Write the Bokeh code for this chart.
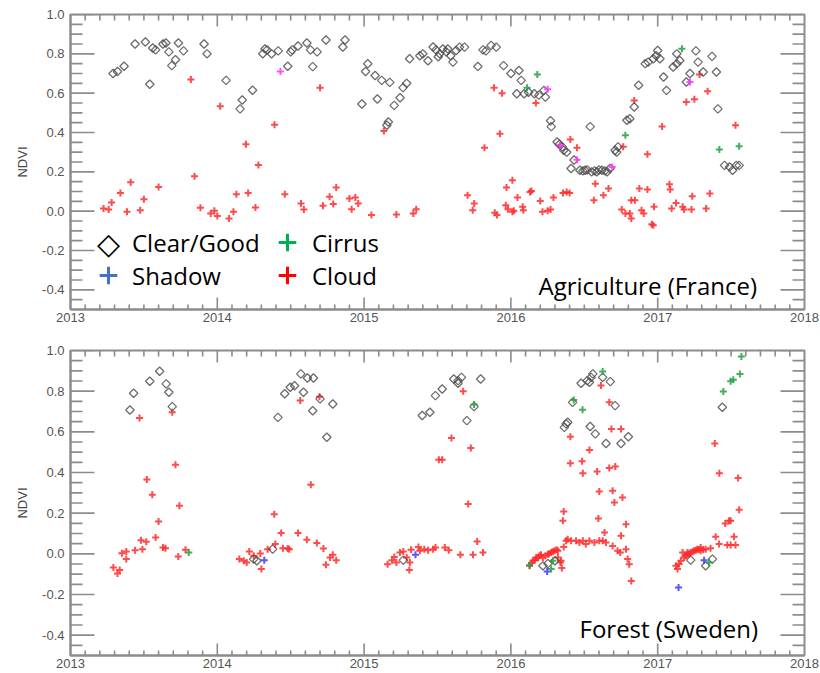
import numpy as np
from bokeh.plotting import figure
from bokeh.models import (Range1d, LinearAxis, SingleIntervalTicker, NumeralTickFormatter,
                          Legend, LegendItem, Label)
from bokeh.layouts import column
from bokeh.embed import file_html
from bokeh.resources import INLINE

# ---------------- data (decimal year, NDVI) ----------------
agri_clear = [
    (2013.29, 0.70), (2013.32, 0.71), (2013.365, 0.737), (2013.44, 0.85), (2013.51, 0.86),
    (2013.54, 0.645), (2013.56, 0.83), (2013.58, 0.82), (2013.63, 0.85), (2013.65, 0.855),
    (2013.67, 0.81), (2013.69, 0.74), (2013.715, 0.77), (2013.735, 0.855), (2013.77, 0.815),
    (2013.91, 0.85), (2013.93, 0.80), (2014.06, 0.665), (2014.155, 0.52), (2014.17, 0.565),
    (2014.24, 0.615), (2014.31, 0.80), (2014.325, 0.825), (2014.34, 0.82), (2014.37, 0.80),
    (2014.415, 0.815), (2014.48, 0.737), (2014.50, 0.81), (2014.51, 0.82), (2014.55, 0.84),
    (2014.61, 0.855), (2014.635, 0.82), (2014.65, 0.735), (2014.68, 0.81), (2014.74, 0.87),
    (2014.855, 0.835), (2014.87, 0.87), (2014.985, 0.545), (2015.01, 0.71), (2015.025, 0.75),
    (2015.075, 0.69), (2015.09, 0.57), (2015.12, 0.665), (2015.155, 0.437), (2015.165, 0.453),
    (2015.175, 0.655), (2015.205, 0.538), (2015.245, 0.577), (2015.265, 0.628), (2015.29, 0.65),
    (2015.31, 0.775), (2015.38, 0.79), (2015.40, 0.80), (2015.435, 0.765), (2015.47, 0.835),
    (2015.49, 0.82), (2015.505, 0.785), (2015.515, 0.80), (2015.537, 0.825), (2015.56, 0.81),
    (2015.57, 0.825), (2015.59, 0.79), (2015.605, 0.758), (2015.627, 0.817), (2015.65, 0.834),
    (2015.684, 0.834), (2015.775, 0.736), (2015.81, 0.82), (2015.83, 0.815), (2015.865, 0.843),
    (2015.90, 0.834), (2015.95, 0.74), (2016.0, 0.70), (2016.04, 0.597), (2016.055, 0.715),
    (2016.07, 0.665), (2016.09, 0.597), (2016.12, 0.605), (2016.16, 0.597), (2016.19, 0.59),
    (2016.225, 0.614), (2016.235, 0.58), (2016.27, 0.46), (2016.275, 0.43), (2016.315, 0.352),
    (2016.33, 0.34), (2016.35, 0.327), (2016.36, 0.31), (2016.38, 0.30), (2016.41, 0.217),
    (2016.43, 0.26), (2016.47, 0.208), (2016.49, 0.205), (2016.505, 0.208), (2016.52, 0.21),
    (2016.54, 0.43), (2016.55, 0.20), (2016.57, 0.205), (2016.585, 0.20), (2016.60, 0.21),
    (2016.62, 0.208), (2016.64, 0.205), (2016.655, 0.20), (2016.675, 0.217), (2016.71, 0.31),
    (2016.72, 0.30), (2016.73, 0.327), (2016.79, 0.462), (2016.81, 0.47), (2016.84, 0.53),
    (2016.87, 0.64), (2016.915, 0.75), (2016.935, 0.758), (2016.97, 0.775), (2016.99, 0.79),
    (2017.0, 0.817), (2017.015, 0.775), (2017.04, 0.682), (2017.06, 0.614), (2017.105, 0.733),
    (2017.13, 0.75), (2017.13, 0.80), (2017.15, 0.766), (2017.195, 0.657), (2017.22, 0.70),
    (2017.26, 0.815), (2017.275, 0.758), (2017.31, 0.708), (2017.37, 0.787), (2017.40, 0.708),
    (2017.41, 0.52), (2017.455, 0.233), (2017.49, 0.225), (2017.51, 0.208), (2017.535, 0.233),
    (2017.555, 0.233),
]
agri_cirrus = [(2016.11, 0.628), (2016.18, 0.695), (2016.78, 0.386), (2017.165, 0.826),
               (2017.42, 0.313), (2017.555, 0.33)]
agri_other = [(2014.43, 0.71), (2016.25, 0.62), (2016.335, 0.335), (2016.45, 0.262),
              (2016.69, 0.225), (2017.22, 0.657)]
agri_cloud = [
    (2013.225, 0.014), (2013.26, 0.009), (2013.28, 0.044), (2013.34, 0.093), (2013.385, -0.003),
    (2013.41, 0.147), (2013.475, 0.005), (2013.50, 0.061), (2013.60, 0.123), (2013.82, 0.669),
    (2013.845, 0.178), (2013.885, 0.017), (2013.955, -0.012), (2013.98, 0.002), (2014.0, -0.024),
    (2014.02, 0.533), (2014.08, -0.037), (2014.11, -0.003), (2014.13, 0.086), (2014.195, 0.34),
    (2014.21, 0.093), (2014.26, 0.019), (2014.28, 0.235), (2014.39, 0.44), (2014.46, 0.086),
    (2014.57, 0.039), (2014.59, 0.009), (2014.70, 0.628), (2014.72, 0.027), (2014.765, 0.073),
    (2014.79, 0.036), (2014.81, 0.12), (2014.90, 0.064), (2014.915, 0.01), (2014.94, 0.07),
    (2014.96, 0.039), (2015.05, -0.02), (2015.135, 0.408), (2015.22, -0.017), (2015.335, -0.012),
    (2015.355, 0.01), (2015.705, 0.081), (2015.74, 0.005), (2015.75, 0.039), (2015.82, 0.323),
    (2015.885, 0.628), (2015.89, -0.008), (2015.905, -0.02), (2015.925, 0.394), (2015.94, 0.60),
    (2015.965, 0.03), (2015.97, 0.12), (2015.98, 0.01), (2016.01, -0.003), (2016.01, 0.157),
    (2016.02, 0.002), (2016.045, 0.07), (2016.08, 0.022), (2016.085, 0.005), (2016.13, 0.098),
    (2016.14, 0.103), (2016.17, 0.55), (2016.20, 0.052), (2016.215, -0.003), (2016.25, 0.002),
    (2016.27, 0.009), (2016.29, 0.07), (2016.355, 0.093), (2016.38, 0.098), (2016.40, 0.093),
    (2016.405, 0.364), (2016.45, 0.323), (2016.565, 0.056), (2016.575, 0.14), (2016.63, 0.081),
    (2016.665, 0.115), (2016.755, 0.009), (2016.765, 0.327), (2016.78, -0.012), (2016.81, -0.012),
    (2016.82, 0.056), (2016.82, -0.037), (2016.84, 0.563), (2016.845, 0.056), (2016.875, 0.115),
    (2016.89, 0.005), (2016.905, -0.012), (2016.93, 0.11), (2016.93, 0.289), (2016.96, -0.066),
    (2016.97, -0.071), (2016.975, 0.022), (2017.03, 0.431), (2017.08, 0.137), (2017.085, 0.11),
    (2017.095, 0.014), (2017.125, 0.042), (2017.17, 0.022), (2017.18, 0.009), (2017.195, 0.555),
    (2017.23, 0.009), (2017.235, 0.076), (2017.25, 0.569), (2017.285, 0.695), (2017.33, 0.014),
    (2017.34, 0.61), (2017.355, 0.09), (2017.53, 0.437),
]

forest_clear = [
    (2013.405, 0.707), (2013.43, 0.79), (2013.54, 0.849), (2013.607, 0.898), (2013.652, 0.836),
    (2013.67, 0.795), (2013.693, 0.724), (2014.248, -0.026), (2014.27, -0.034), (2014.377, 0.023),
    (2014.413, 0.671), (2014.459, 0.787), (2014.497, 0.819), (2014.526, 0.827), (2014.569, 0.885),
    (2014.587, 0.795), (2014.614, 0.865), (2014.65, 0.704), (2014.655, 0.865), (2014.70, 0.762),
    (2014.746, 0.573), (2014.787, 0.737), (2015.267, -0.031), (2015.396, 0.68), (2015.448, 0.696),
    (2015.486, 0.778), (2015.532, 0.811), (2015.611, 0.86), (2015.64, 0.852), (2015.64, 0.839),
    (2015.663, 0.868), (2015.70, 0.655), (2015.749, 0.724), (2015.794, 0.86), (2016.218, -0.059),
    (2016.252, -0.048), (2016.30, -0.034), (2016.364, 0.622), (2016.376, 0.639), (2016.387, 0.647),
    (2016.42, 0.745), (2016.478, 0.839), (2016.52, 0.852), (2016.535, 0.844), (2016.54, 0.626),
    (2016.546, 0.868), (2016.558, 0.885), (2016.575, 0.59), (2016.625, 0.868), (2016.648, 0.543),
    (2016.677, 0.847), (2016.71, 0.729), (2016.75, 0.543), (2016.80, 0.576), (2017.225, -0.031),
    (2017.327, -0.059), (2017.373, -0.026), (2017.44, 0.721),
]
forest_cirrus = [(2013.806, 0.006), (2015.749, 0.734), (2016.127, -0.056), (2016.274, -0.075),
                 (2016.286, -0.034), (2016.428, 0.757), (2016.488, 0.709), (2016.625, 0.897),
                 (2017.35, -0.043), (2017.447, 0.798), (2017.497, 0.849), (2017.515, 0.856),
                 (2017.56, 0.885), (2017.57, 0.97)]
forest_shadow = [(2014.32, -0.031), (2015.35, -0.005), (2016.247, -0.087), (2017.142, -0.166),
                 (2017.316, -0.031)]
forest_cloud = [
    (2013.292, -0.067), (2013.32, -0.097), (2013.335, -0.08), (2013.35, 0.003), (2013.38, 0.011),
    (2013.38, -0.026), (2013.44, 0.018), (2013.47, 0.668), (2013.48, 0.067), (2013.49, 0.023),
    (2013.516, 0.059), (2013.52, 0.365), (2013.557, 0.29), (2013.58, 0.08), (2013.60, 0.159),
    (2013.63, 0.031), (2013.647, 0.028), (2013.693, 0.696), (2013.715, 0.438), (2013.734, -0.013),
    (2013.742, 0.236), (2013.783, 0.02), (2014.15, -0.026), (2014.18, -0.034), (2014.20, -0.043),
    (2014.218, 0.011), (2014.248, -0.01), (2014.293, 0.002), (2014.30, -0.075), (2014.343, 0.023),
    (2014.388, 0.195), (2014.395, 0.048), (2014.435, 0.102), (2014.447, 0.028), (2014.48, 0.026),
    (2014.49, 0.023), (2014.55, 0.102), (2014.565, 0.754), (2014.61, 0.069), (2014.637, 0.34),
    (2014.678, 0.053), (2014.696, 0.773), (2014.723, 0.026), (2014.74, -0.054), (2014.768, -0.018),
    (2014.787, -0.005), (2014.81, -0.031), (2015.16, -0.051), (2015.19, -0.031), (2015.206, -0.015),
    (2015.22, -0.043), (2015.244, 0.006), (2015.267, 0.011), (2015.29, -0.018), (2015.308, -0.08),
    (2015.312, -0.043), (2015.32, 0.02), (2015.37, 0.034), (2015.38, 0.015), (2015.41, 0.023),
    (2015.436, 0.018), (2015.47, 0.023), (2015.486, 0.031), (2015.509, 0.463), (2015.532, 0.463),
    (2015.55, 0.031), (2015.577, 0.018), (2015.595, 0.57), (2015.656, -0.005), (2015.675, 0.80),
    (2015.709, 0.245), (2015.727, 0.521), (2015.742, -0.005), (2015.77, 0.061), (2015.81, 0.006),
    (2016.127, -0.059), (2016.14, -0.045), (2016.15, -0.034), (2016.165, -0.03), (2016.172, -0.018),
    (2016.185, -0.02), (2016.195, -0.01), (2016.205, -0.005), (2016.218, -0.018), (2016.235, -0.01),
    (2016.252, -0.002), (2016.26, 0.0), (2016.274, 0.006), (2016.285, 0.01), (2016.297, 0.015),
    (2016.31, 0.02), (2016.32, -0.018), (2016.32, 0.015), (2016.337, -0.043), (2016.342, -0.034),
    (2016.347, -0.07), (2016.354, 0.163), (2016.36, 0.034), (2016.36, 0.208), (2016.376, 0.064),
    (2016.387, 0.072), (2016.405, 0.576), (2016.405, 0.445), (2016.41, 0.064), (2016.444, 0.064),
    (2016.467, 0.056), (2016.485, 0.455), (2016.49, 0.396), (2016.49, 0.064), (2016.51, 0.048),
    (2016.535, 0.511), (2016.535, 0.064), (2016.569, 0.056), (2016.587, 0.405), (2016.596, 0.174),
    (2016.602, 0.307), (2016.602, 0.064), (2016.614, 0.828), (2016.625, 0.064), (2016.638, 0.105),
    (2016.648, 0.056), (2016.67, 0.745), (2016.67, 0.422), (2016.685, 0.614), (2016.693, 0.31),
    (2016.693, 0.039), (2016.705, 0.253), (2016.711, 0.429), (2016.727, 0.015), (2016.745, 0.006),
    (2016.75, 0.614), (2016.75, 0.089), (2016.76, 0.277), (2016.784, 0.146), (2016.784, 0.023),
    (2016.795, -0.026), (2016.806, -0.051), (2016.82, -0.133), (2017.124, -0.059), (2017.135, -0.075),
    (2017.145, -0.05), (2017.158, -0.034), (2017.17, 0.006), (2017.18, -0.018), (2017.19, -0.01),
    (2017.203, -0.002), (2017.203, 0.006), (2017.215, 0.0), (2017.225, 0.006), (2017.238, 0.01),
    (2017.248, 0.015), (2017.26, 0.018), (2017.27, 0.023), (2017.28, 0.02), (2017.293, 0.015),
    (2017.293, 0.031), (2017.31, 0.02), (2017.327, 0.023), (2017.36, 0.028), (2017.389, 0.543),
    (2017.395, 0.084), (2017.418, 0.048), (2017.42, 0.396), (2017.46, 0.149), (2017.474, 0.044),
    (2017.486, 0.163), (2017.497, 0.163), (2017.497, 0.044), (2017.52, 0.084), (2017.53, 0.043),
    (2017.548, 0.373), (2017.555, 0.217),
]

year_range = (2013, 2018)
ndvi_range = (-0.5, 1.0)
legend_labels = ["Clear/Good", "Shadow", "Cirrus", "Cloud"]
panel_titles = ["Agriculture (France)", "Forest (Sweden)"]

# ---------------- styling ----------------
AX = "#8c8c8c"
TXT = "#555555"
TICK_FONT = "Liberation Sans"
ANNOT_FONT = "Open Sans"
ANNOT_SIZE = "24px"


def xs(pts):
    return [p[0] for p in pts]


def ys(pts):
    return [p[1] for p in pts]


def style_axis(ax):
    ax.major_tick_in = 0
    ax.minor_tick_in = 0
    ax.major_tick_out = 0
    ax.minor_tick_out = 0
    ax.major_tick_line_color = None
    ax.minor_tick_line_color = None
    ax.axis_line_color = AX
    ax.axis_line_width = 2
    ax.major_label_text_font_size = "13px"
    ax.major_label_text_color = TXT
    ax.major_label_text_font = TICK_FONT


def add_axes(p):
    bx = LinearAxis(ticker=SingleIntervalTicker(interval=1, num_minor_ticks=10),
                    formatter=NumeralTickFormatter(format="0"))
    style_axis(bx)
    bx.major_label_standoff = 3
    p.add_layout(bx, "below")

    ly = LinearAxis(ticker=SingleIntervalTicker(interval=0.2, num_minor_ticks=4),
                    formatter=NumeralTickFormatter(format="0.0"))
    style_axis(ly)
    ly.major_label_standoff = 6
    ly.axis_label = "NDVI"
    ly.axis_label_text_font = TICK_FONT
    ly.axis_label_text_font_size = "13px"
    ly.axis_label_text_font_style = "normal"
    ly.axis_label_text_color = "#444444"
    ly.axis_label_standoff = 9
    p.add_layout(ly, "left")

    # inward tick marks on all four sides (IDL style), drawn as screen-length rays
    x0, x1 = year_range
    y0, y1 = ndvi_range
    xmaj = np.arange(x0 + 1, x1)
    xmin = np.array([v for v in np.round(np.arange(x0, x1 + 1e-9, 0.1), 3)
                     if abs(v - round(v)) > 1e-6])
    ymaj = np.round(np.arange(-0.4, y1 + 1e-9, 0.2), 3)
    ymin = np.array([v for v in np.round(np.arange(y0 + 0.05, y1, 0.05), 3)
                     if abs(v * 5 - round(v * 5)) > 1e-6])
    tk = dict(line_color=AX, line_width=1.6, length_units="screen")
    p.ray(x=[x0] * len(ymaj), y=ymaj, length=24, angle=0, **tk)
    p.ray(x=[x0] * len(ymin), y=ymin, length=12, angle=0, **tk)
    p.ray(x=[x1] * len(ymaj), y=ymaj, length=24, angle=np.pi, **tk)
    p.ray(x=[x1] * len(ymin), y=ymin, length=12, angle=np.pi, **tk)
    p.ray(x=xmaj, y=[y0] * len(xmaj), length=12, angle=np.pi / 2, **tk)
    p.ray(x=xmin, y=[y0] * len(xmin), length=5, angle=np.pi / 2, **tk)
    p.ray(x=xmaj, y=[y1] * len(xmaj), length=12, angle=-np.pi / 2, **tk)
    p.ray(x=xmin, y=[y1] * len(xmin), length=6, angle=-np.pi / 2, **tk)


def make_panel(height, b_top, b_bottom, b_left, b_right):
    p = figure(width=820, height=height, output_backend="svg", toolbar_location=None,
               x_range=Range1d(*year_range), y_range=Range1d(*ndvi_range),
               x_axis_type=None, y_axis_type=None,
               min_border_top=b_top, min_border_bottom=b_bottom,
               min_border_left=b_left, min_border_right=b_right)
    p.outline_line_color = AX
    p.outline_line_width = 2
    p.background_fill_color = "white"
    p.border_fill_color = "white"
    add_axes(p)
    return p


def draw_clear(p, pts):
    p.scatter(xs(pts), ys(pts), marker="square", angle=45, angle_units="deg", size=6,
              fill_color=None, line_color="#4a4a4a", line_alpha=0.8, line_width=1.3)


def draw_plus(p, pts, color, alpha=0.85):
    p.scatter(xs(pts), ys(pts), marker="cross", size=7, line_color=color,
              line_alpha=alpha, line_width=2)


# ---------------- top panel ----------------
p1 = make_panel(330, 14, 21, 70, 11)
draw_plus(p1, agri_cloud, "#ff2b2b")
draw_clear(p1, agri_clear)
draw_plus(p1, agri_cirrus, "#22a042")
draw_plus(p1, agri_other, "#ff33ff")

# legend-only renderers (hidden; they only supply the legend glyph style)
lx, ly_ = xs(agri_cloud), ys(agri_cloud)
lg_clear = p1.scatter(lx, ly_, marker="square", size=10, fill_color=None,
                      line_color="black", line_alpha=0, visible=False)
lg_shadow = p1.scatter(lx, ly_, marker="cross", size=10, line_color="#4472c4", line_width=3,
                       visible=False)
lg_cirrus = p1.scatter(lx, ly_, marker="cross", size=10, line_color="#00b050", line_width=3,
                       visible=False)
lg_cloud = p1.scatter(lx, ly_, marker="cross", size=10, line_color="#ff0000", line_width=3,
                      visible=False)

legend_specs = [
    (lg_clear, legend_labels[0], (18, 47), 40, 4),
    (lg_shadow, legend_labels[1], (16, 12), 44, 2),
    (lg_cirrus, legend_labels[2], (195, 45), 44, 3),
    (lg_cloud, legend_labels[3], (195, 12), 44, 3),
]
for r, lab, loc, g, st in legend_specs:
    lg = Legend(items=[LegendItem(label=lab, renderers=[r])], location=loc,
                glyph_width=g, glyph_height=g, label_standoff=st, label_height=g,
                padding=0, margin=0, spacing=0, click_policy="none",
                label_text_font=ANNOT_FONT, label_text_font_size=ANNOT_SIZE,
                label_text_color="black", border_line_color=None,
                background_fill_alpha=0)
    p1.add_layout(lg)

# open-diamond key symbol for the Clear/Good entry
p1.add_layout(Label(x=38, y=66, x_units="screen", y_units="screen", text="\u25c7",
                    text_font="DejaVu Sans", text_font_size="30px", text_font_style="bold",
                    text_color="black", text_align="center", text_baseline="middle"))

p1.add_layout(Label(x=468, y=24, x_units="screen", y_units="screen", text=panel_titles[0],
                    text_font=ANNOT_FONT, text_font_size=ANNOT_SIZE, text_color="black",
                    text_baseline="alphabetic"))

# ---------------- bottom panel ----------------
p2 = make_panel(343, 20, 18, 68, 16)
draw_plus(p2, forest_cloud, "#ff2b2b")
draw_clear(p2, forest_clear)
draw_plus(p2, forest_cirrus, "#22a042")
draw_plus(p2, forest_shadow, "#3a3aff")

p2.add_layout(Label(x=509, y=27, x_units="screen", y_units="screen", text=panel_titles[1],
                    text_font=ANNOT_FONT, text_font_size=ANNOT_SIZE, text_color="black",
                    text_baseline="alphabetic"))

layout = column(p1, p2, spacing=0)
open("out.html", "w").write(file_html(layout, INLINE))
